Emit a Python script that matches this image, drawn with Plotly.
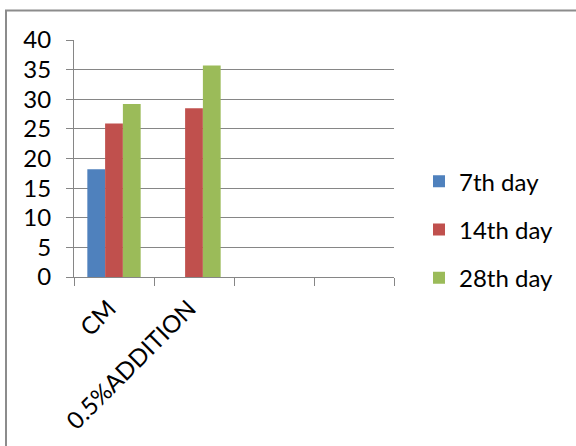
import plotly.graph_objects as go

categories = ["CM", "0.5%ADDITION", " ", "  "]
series_names = ["7th day", "14th day", "28th day"]
day7 = [18.2, None, None, None]
day14 = [25.9, 28.5, None, None]
day28 = [29.2, 35.7, None, None]
colors = ["#4F81BD", "#C0504D", "#9BBB59"]
y_ticks = [0, 5, 10, 15, 20, 25, 30, 35, 40]

FONT = "Lato"
fig = go.Figure()
for i, (name, vals) in enumerate(zip(series_names, [day7, day14, day28])):
    fig.add_trace(go.Bar(x=categories, y=vals, name=name, marker_color=colors[i],
                         marker_line_width=0, legendgroup=f"g{i}"))

L, R, T, B = 74, 394, 39.5, 277.5
W, H = 576, 446
pw, ph = R - L, B - T

fig.update_layout(
    width=W, height=H,
    margin=dict(l=L, r=W - R, t=T, b=H - B, pad=0),
    paper_bgcolor="white", plot_bgcolor="white",
    barmode="group", bargap=1.5 / 4.5, bargroupgap=0,
    font=dict(family=FONT, size=24, color="#000000"),
    legend=dict(x=(419 - L) / pw, y=(B - 230) / ph, xanchor="left", yanchor="middle",
                tracegroupgap=14, font=dict(size=24), bgcolor="rgba(0,0,0,0)"),
    xaxis=dict(type="category", categoryorder="array", categoryarray=categories,
               tickson="boundaries", ticks="outside", ticklen=8, tickcolor="#868686",
               tickwidth=1, showline=True, linecolor="#868686", linewidth=1,
               showgrid=False, tickangle=-45, range=[-0.5, 3.5],
               ticklabelshift=-5, ticklabelstandoff=7),
    yaxis=dict(range=[0, 40], tickvals=y_ticks, ticks="outside", ticklen=7,
               tickcolor="#868686", showline=True, linecolor="#868686", linewidth=1,
               showgrid=True, gridcolor="#868686", gridwidth=1, zeroline=False,
               ticklabelstandoff=10),
    shapes=[dict(type="rect", xref="paper", yref="paper",
                 x0=(6 - L) / pw, x1=(600 - L) / pw,
                 y0=(B - 470) / ph, y1=(B - 10) / ph,
                 line=dict(color="#8C8C8C", width=2), layer="below")],
)

fig.write_html("out.html")
